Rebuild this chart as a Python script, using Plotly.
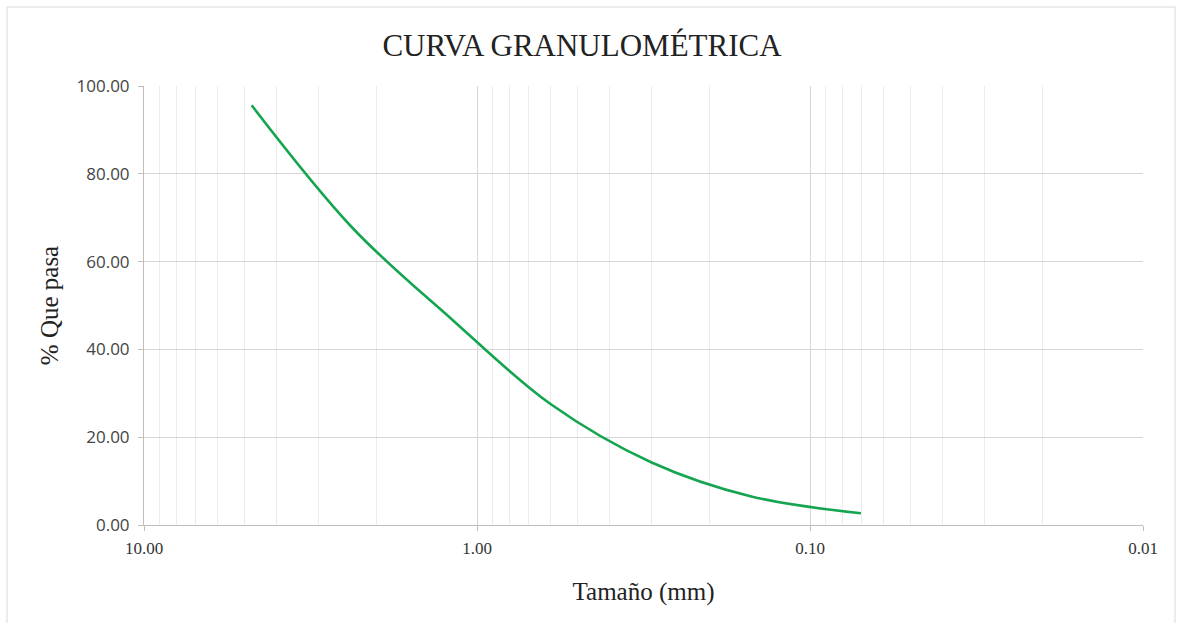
import plotly.graph_objects as go

# Data (sieve openings, % passing)
tamano_mm = [4.75, 2.36, 1.18, 0.60, 0.30, 0.15, 0.0703]
pct_pasa = [95.6, 67.6, 46.6, 27.5, 14.3, 6.5, 2.67]

x_tickvals = [10, 1, 0.1, 0.01]
x_ticktext = ["10.00", "1.00", "0.10", "0.01"]
minor_vals = [m * d for d in (1, 0.1, 0.01) for m in range(2, 10)]

W, H = 1179, 623
L, R, T, B = 144, 36, 86, 98
pw, ph = W - L - R, H - T - B

fig = go.Figure()
fig.add_trace(go.Scatter(
    x=tamano_mm, y=pct_pasa, mode="lines",
    line=dict(color="#15A550", width=2.6, shape="spline", smoothing=1.0),
    showlegend=False, hoverinfo="x+y",
))

fig.update_layout(
    width=W, height=H,
    margin=dict(l=L, r=R, t=T, b=B),
    paper_bgcolor="white", plot_bgcolor="white",
    title=dict(text="CURVA GRANULOMÉTRICA", x=582 / W, xanchor="center",
               y=1 - 45 / H, yanchor="middle",
               font=dict(family="Liberation Serif", size=31, color="#222222")),
    xaxis=dict(
        type="log", range=[1, -2],
        tickvals=x_tickvals, ticktext=x_ticktext,
        showgrid=True, gridcolor="#d6d6d6", gridwidth=1,
        minor=dict(tickvals=minor_vals, showgrid=True, gridcolor="#ececec", gridwidth=1, ticks=""),
        showline=True, linecolor="#bfbfbf", linewidth=1,
        ticks="outside", ticklen=5, tickcolor="#bfbfbf",
        ticklabelstandoff=3,
        tickfont=dict(family="Liberation Serif", size=17, color="#333333"),
        title=dict(text="Tamaño (mm)", font=dict(family="Liberation Serif", size=25, color="#222222"),
                   standoff=25),
        zeroline=False,
    ),
    yaxis=dict(
        range=[0, 100], dtick=20, tickformat=".2f",
        showgrid=True, gridcolor="#d6d6d6", gridwidth=1,
        showline=True, linecolor="#bfbfbf", linewidth=1,
        ticks="outside", ticklen=5, tickcolor="#bfbfbf",
        ticklabelstandoff=5,
        tickfont=dict(family="Open Sans", size=17, color="#444444"),
        title=dict(text="% Que pasa", font=dict(family="Liberation Serif", size=25, color="#222222"),
                   standoff=10),
        zeroline=False,
    ),
)

# outer chart border
fig.add_shape(type="rect", xref="paper", yref="paper",
              x0=(7 - L) / pw, x1=(1175 - L) / pw,
              y0=(H - B - 640) / ph, y1=(H - B - 7) / ph,
              line=dict(color="#d9d9d9", width=1), layer="below")

fig.write_html("out.html")
